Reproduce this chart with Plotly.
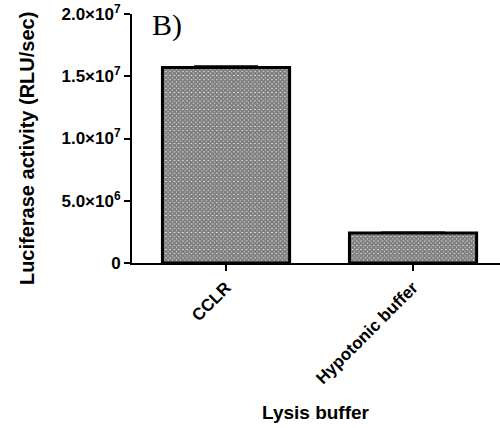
import plotly.graph_objects as go

categories = ["CCLR", "Hypotonic buffer"]
values = [1.57e7, 2.4e6]
errors = [1.0e5, 5.0e4]
ytick_vals = [0, 5e6, 1e7, 1.5e7, 2e7]
ytick_text = ["0", "5.0×10<sup>6</sup>", "1.0×10<sup>7</sup>", "1.5×10<sup>7</sup>", "2.0×10<sup>7</sup>"]

fig = go.Figure()
fig.add_trace(go.Bar(
    x=categories, y=values,
    width=0.68,
    marker=dict(
        color="white",
        line=dict(color="black", width=3),
        pattern=dict(shape="x", fgcolor="black", bgcolor="white", size=3, solidity=0.9),
    ),
    error_y=dict(type="data", array=errors, symmetric=False, arrayminus=[0, 0],
                 color="black", thickness=2, width=32, visible=True),
))

fig.add_annotation(text="B)", xref="paper", yref="paper", x=0.049, y=0.955,
                   xanchor="left", yanchor="middle", showarrow=False,
                   font=dict(family="Liberation Serif", size=30, color="black"))
fig.add_annotation(text="<b>Luciferase activity (RLU/sec)</b>", xref="paper", yref="paper",
                   x=-0.285, y=0.458, textangle=-90, showarrow=False,
                   xanchor="center", yanchor="middle",
                   font=dict(family="Liberation Sans", size=20, color="black"))
fig.add_annotation(text="<b>Lysis buffer</b>", xref="paper", yref="paper",
                   x=0.5, y=-0.602, showarrow=False,
                   xanchor="center", yanchor="middle",
                   font=dict(family="Liberation Sans", size=19, color="black"))

fig.update_layout(
    width=500, height=428,
    margin=dict(l=132, r=0, t=14, b=165),
    plot_bgcolor="white", paper_bgcolor="white",
    showlegend=False,
    font=dict(family="Liberation Sans", color="black"),
)
fig.update_xaxes(
    range=[-0.5027, 1.465], automargin=False,
    showline=True, linecolor="black", linewidth=2,
    ticks="outside", ticklen=6, tickwidth=2, tickcolor="black",
    tickangle=-45,
    tickfont=dict(family="Liberation Sans", size=17, color="black", weight="bold"),
    showgrid=False, zeroline=False,
)
fig.update_yaxes(
    range=[0, 2e7], automargin=False,
    tickvals=ytick_vals, ticktext=ytick_text,
    ticklabeloverflow="allow",
    showline=True, linecolor="black", linewidth=2,
    ticks="outside", ticklen=6, tickwidth=2, tickcolor="black",
    tickfont=dict(family="Liberation Sans", size=17, color="black", weight="bold"),
    showgrid=False, zeroline=False,
)

fig.write_html("out.html", config={"displayModeBar": False},
               post_script="document.body.style.margin='0';")
